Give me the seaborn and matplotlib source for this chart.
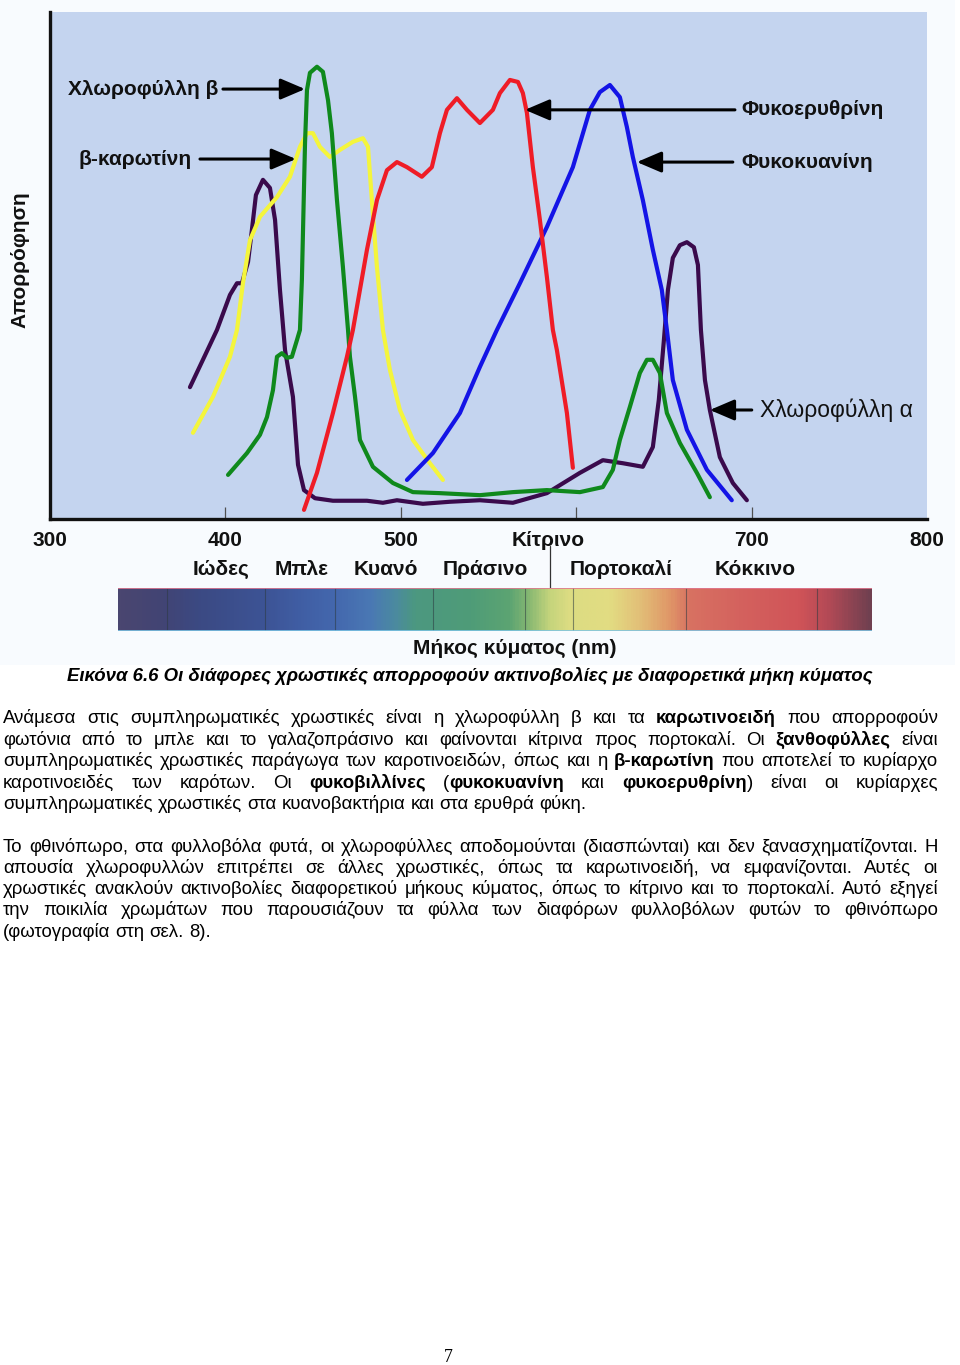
import numpy as np
import pandas as pd
import matplotlib
matplotlib.use("Agg")
import matplotlib.pyplot as plt
import seaborn as sns
from matplotlib.colors import LinearSegmentedColormap
from matplotlib.transforms import ScaledTranslation, blended_transform_factory
from matplotlib.patches import Rectangle, ArrowStyle

# ---------------- data (wavelength nm, relative absorption 0-100) ----------------
chl_a_nm = [379.8, 388.4, 395.2, 402.6, 406.6, 409.4, 412.9, 415.1, 417.4, 421.4, 425.4,
            428.3, 431.1, 434.0, 438.5, 441.4, 444.8, 451.1, 461.3, 480.7, 489.8, 497.8,
            512.6, 528.0, 545.1, 563.9, 583.3, 602.1, 615.2, 626.6, 638.0, 643.7, 647.1,
            650.0, 652.3, 655.1, 659.1, 663.1, 667.1, 669.4, 671.1, 673.4, 676.2, 681.9,
            689.3, 697.3]
chl_a_abs = [26.0, 32.3, 37.3, 44.2, 46.5, 46.5, 50.7, 57.0, 63.9, 66.9, 65.3,
             59.0, 45.2, 33.3, 24.1, 10.7, 5.7, 4.1, 3.6, 3.6, 3.2, 3.7,
             3.0, 3.4, 3.7, 3.2, 5.1, 9.1, 11.6, 11.0, 10.3, 14.2, 23.5,
             35.3, 45.2, 51.5, 54.0, 54.6, 53.6, 50.1, 37.3, 27.4, 21.5, 12.2,
             7.1, 3.7]

chl_b_nm = [401.5, 412.3, 419.7, 423.7, 427.1, 429.4, 432.2, 435.1, 437.9, 440.8, 442.5,
            443.6, 445.4, 446.5, 448.2, 452.2, 455.6, 458.5, 460.7, 463.6, 467.0, 469.9,
            471.0, 473.9, 476.7, 484.1, 495.5, 506.9, 522.3, 545.1, 563.9, 583.3, 602.1,
            615.2, 620.9, 624.9, 630.6, 636.3, 640.3, 643.7, 647.7, 651.7, 659.1, 668.8,
            676.2]
chl_b_abs = [8.7, 13.0, 16.6, 20.1, 25.4, 32.0, 32.7, 31.8, 32.0, 35.3, 37.3,
             47.1, 74.2, 84.6, 88.0, 89.2, 88.2, 82.6, 76.1, 62.9, 49.7, 37.3,
             32.0, 24.1, 15.6, 10.3, 7.1, 5.3, 5.1, 4.7, 5.3, 5.7, 5.3,
             6.3, 9.7, 15.6, 22.1, 28.8, 31.4, 31.4, 28.8, 20.9, 15.0, 9.1,
             4.3]

carot_nm = [381.5, 392.9, 402.6, 406.6, 410.0, 414.0, 419.7, 429.4, 436.8, 442.5, 446.5,
            449.9, 453.9, 459.6, 465.3, 472.7, 478.4, 481.3, 483.5, 486.4, 489.8, 493.8,
            499.5, 506.9, 516.6, 524.0]
carot_abs = [17.0, 24.1, 32.0, 37.3, 46.5, 55.0, 59.6, 63.5, 67.5, 73.4, 76.1,
             76.1, 73.4, 71.4, 72.8, 74.4, 75.1, 73.4, 62.9, 49.7, 37.3, 29.4,
             21.5, 15.6, 11.0, 7.7]

phycoery_nm = [444.8, 452.2, 461.3, 469.3, 472.7, 480.7, 486.4, 492.1, 497.8, 503.5, 512.0,
               517.7, 522.3, 526.3, 532.0, 537.7, 545.1, 552.5, 556.5, 562.2, 566.8, 569.6,
               571.9, 575.3, 579.3, 583.3, 586.7, 589.0, 594.7, 598.1]
phycoery_abs = [1.8, 9.1, 20.9, 32.0, 37.3, 53.1, 62.9, 68.8, 70.4, 69.4, 67.5,
                69.4, 76.1, 80.7, 83.0, 80.7, 78.1, 80.7, 84.0, 86.6, 86.2, 84.0,
                80.1, 69.4, 59.0, 47.7, 37.3, 33.3, 20.9, 10.1]

phycocy_nm = [503.5, 518.3, 533.7, 545.1, 554.8, 567.9, 583.3, 598.1, 607.8, 613.5, 619.2,
              624.9, 628.9, 632.3, 638.0, 643.7, 648.8, 651.7, 655.1, 663.1, 674.5, 688.7]
phycocy_abs = [7.7, 13.0, 20.9, 30.0, 37.3, 46.5, 57.6, 69.4, 80.7, 84.2, 85.6,
               83.2, 77.3, 71.4, 62.9, 53.1, 45.2, 37.3, 27.4, 17.6, 9.7, 3.7]

pigments = ["Χλωροφύλλη α", "β-καρωτίνη", "Χλωροφύλλη β", "Φυκοκυανίνη", "Φυκοερυθρίνη"]
pigment_colors = ["#3a0a4c", "#f4f53c", "#0f891c", "#1414e6", "#ef1c26"]

tick_pos = [300, 400, 500, 600, 700, 800]
tick_labels = ["300", "400", "500", "Κίτρινο", "700", "800"]

band_names = ["Ιώδες", "Μπλε", "Κυανό", "Πράσινο", "Πορτοκαλί", "Κόκκινο"]
band_centers = [397.5, 443.7, 491.6, 548.0, 625.5, 702.0]

caption = "Εικόνα 6.6 Οι διάφορες χρωστικές απορροφούν ακτινοβολίες με διαφορετικά μήκη κύματος"
para1 = [
    "Ανάμεσα στις συμπληρωματικές χρωστικές είναι η χλωροφύλλη β και τα **καρωτινοειδή** που απορροφούν",
    "φωτόνια από το μπλε και το γαλαζοπράσινο και φαίνονται κίτρινα προς πορτοκαλί. Οι **ξανθοφύλλες** είναι",
    "συμπληρωματικές χρωστικές παράγωγα των καροτινοειδών, όπως και η **β-καρωτίνη** που αποτελεί το κυρίαρχο",
    "καροτινοειδές των καρότων. Οι **φυκοβιλλίνες** (**φυκοκυανίνη** και **φυκοερυθρίνη**) είναι οι κυρίαρχες",
    "συμπληρωματικές χρωστικές στα κυανοβακτήρια και στα ερυθρά φύκη.",
]
para2 = [
    "Το φθινόπωρο, στα φυλλοβόλα φυτά, οι χλωροφύλλες αποδομούνται (διασπώνται) και δεν ξανασχηματίζονται. Η",
    "απουσία χλωροφυλλών επιτρέπει σε άλλες χρωστικές, όπως τα καρωτινοειδή, να εμφανίζονται. Αυτές οι",
    "χρωστικές ανακλούν ακτινοβολίες διαφορετικού μήκους κύματος, όπως το κίτρινο και το πορτοκαλί. Αυτό εξηγεί",
    "την ποικιλία χρωμάτων που παρουσιάζουν τα φύλλα των διαφόρων φυλλοβόλων φυτών το φθινόπωρο",
    "(φωτογραφία στη σελ. 8).",
]
page_number = "7"

# ---------------- build frame ----------------
series = {
    "Χλωροφύλλη α": (chl_a_nm, chl_a_abs),
    "β-καρωτίνη": (carot_nm, carot_abs),
    "Χλωροφύλλη β": (chl_b_nm, chl_b_abs),
    "Φυκοκυανίνη": (phycocy_nm, phycocy_abs),
    "Φυκοερυθρίνη": (phycoery_nm, phycoery_abs),
}
rows = []
for name in pigments:
    xs, ys = series[name]
    for x, y in zip(xs, ys):
        rows.append((name, x, y))
df = pd.DataFrame(rows, columns=["pigment", "nm", "abs"])

# ---------------- figure ----------------
sns.set_theme(style="white")
plt.rcParams["font.family"] = ["Liberation Sans", "DejaVu Sans"]

W, H = 960, 1365
fig = plt.figure(figsize=(W / 100, H / 100), dpi=100)
fig.patch.set_facecolor("white")

# light background of the image area
fig.patches.append(Rectangle((0, 1 - 665 / H), 955 / W, 665 / H, transform=fig.transFigure,
                             facecolor="#f8fbfe", edgecolor="none", zorder=-10))

ax = fig.add_axes([50 / W, 1 - 519 / H, 877 / W, 507 / H])
ax.set_zorder(2)
ax.set_facecolor("#c4d4ef")
sns.lineplot(data=df, x="nm", y="abs", hue="pigment", hue_order=pigments,
             palette=dict(zip(pigments, pigment_colors)), estimator=None, sort=False,
             linewidth=3.0, legend=False, ax=ax)
for ln in ax.lines:
    ln.set_solid_capstyle("round")
    ln.set_solid_joinstyle("round")

ax.set_xlim(300, 800)
ax.set_ylim(0, 100)
ax.set_yticks([])
ax.set_xlabel("")
ax.set_ylabel("")
for s in ["top", "right"]:
    ax.spines[s].set_visible(False)
for s in ["left", "bottom"]:
    ax.spines[s].set_color("#111111")
    ax.spines[s].set_linewidth(2.4)

ax.set_xticks(tick_pos)
ax.set_xticklabels(tick_labels)
ax.tick_params(axis="x", direction="in", length=9, width=0.9, color="#505050",
               pad=9, labelsize=15, bottom=True)
for lab in ax.get_xticklabels():
    lab.set_fontweight("bold")
    lab.set_color("#111111")
ticks = ax.xaxis.get_major_ticks()
ticks[0].tick1line.set_visible(False)
ticks[-1].tick1line.set_visible(False)
kit = ax.get_xticklabels()[3]
kit.set_transform(kit.get_transform() + ScaledTranslation(-28 / 100, 0, fig.dpi_scale_trans))

# annotations
arrow = dict(arrowstyle=ArrowStyle("-|>", head_length=0.75, head_width=0.32),
             color="black", lw=2.2, mutation_scale=20, shrinkA=0, shrinkB=0)
lab_kw = dict(fontsize=15, fontweight="bold", color="#111111", va="center")
ax.annotate("", xy=(445.4, 84.8), xytext=(398.6, 84.8), arrowprops=arrow)
ax.text(395.8, 84.8, "Χλωροφύλλη β", ha="right", **lab_kw)
ax.annotate("", xy=(440.2, 71.0), xytext=(385.5, 71.0), arrowprops=arrow)
ax.text(381.0, 71.0, "β-καρωτίνη", ha="right", **lab_kw)
ax.annotate("", xy=(570.8, 80.7), xytext=(690.5, 80.7), arrowprops=arrow)
ax.text(694.4, 80.7, "Φυκοερυθρίνη", ha="left", **lab_kw)
ax.annotate("", xy=(634.6, 70.4), xytext=(689.3, 70.4), arrowprops=arrow)
ax.text(694.4, 70.4, "Φυκοκυανίνη", ha="left", **lab_kw)
ax.annotate("", xy=(676.2, 21.5), xytext=(700.1, 21.5), arrowprops=arrow)
ax.text(704.7, 21.5, "Χλωροφύλλη α", ha="left", **dict(lab_kw, fontweight="normal", fontsize=16.5))

# colour band names
btr = blended_transform_factory(ax.transData, fig.transFigure)
for name, c in zip(band_names, band_centers):
    ax.text(c, 1 - 569 / H, name, transform=btr, ha="center", va="center",
            fontsize=15, fontweight="bold", color="#111111", clip_on=False)
ax.plot([585, 585], [1 - 546 / H, 1 - 598 / H], transform=btr, color="#333333",
        lw=0.9, clip_on=False)

fig.text(20 / W, 1 - 260 / H, "Απορρόφηση", rotation=90, ha="center", va="center",
         fontsize=15, fontweight="bold", color="#111111")
fig.text(515 / W, 1 - 648 / H, "Μήκος κύματος (nm)", ha="center", va="center",
         fontsize=15, fontweight="bold", color="#111111")

# spectrum bar
bax = fig.add_axes([118 / W, 1 - 631 / H, 754 / W, 43 / H])
bax.set_zorder(3)
stops = [(0.0, "#4a4670"), (0.056, "#424474"), (0.109, "#3b4a84"), (0.195, "#3d5496"),
         (0.241, "#405ea4"), (0.288, "#4468ae"), (0.334, "#4a78b4"), (0.367, "#4b8aa0"),
         (0.394, "#4c9880"), (0.467, "#4f9c78"), (0.520, "#5ca472"), (0.546, "#88b872"),
         (0.573, "#c4d47c"), (0.599, "#dcdc82"), (0.653, "#e2dc82"), (0.692, "#e2c078"),
         (0.732, "#e09868"), (0.759, "#d87262"), (0.825, "#d4625e"), (0.905, "#d05458"),
         (0.944, "#b44a56"), (1.0, "#704050")]
cmap = LinearSegmentedColormap.from_list("spec", stops)
bax.imshow(np.linspace(0, 1, 600)[None, :], aspect="auto", cmap=cmap, extent=(0, 1, 0, 1))
for f in [0.065, 0.195, 0.288, 0.418, 0.540, 0.603, 0.753, 0.927]:
    bax.axvline(f, color="#2c3a40", lw=0.8, alpha=0.55)
bax.axhline(1, color="#e07890", lw=1.2)
bax.axhline(0, color="#7cc4e4", lw=1.2)
bax.set_xlim(0, 1)
bax.set_ylim(0, 1)
bax.axis("off")

# ---------------- page text ----------------
BODY = "Liberation Sans"
fig.text(470 / W, 1 - 681 / H, caption, ha="center", va="baseline", fontsize=13.4,
         fontweight="bold", fontstyle="italic", color="black", family=BODY)

renderer = fig.canvas.get_renderer()
FS = 13.45


def parse(line):
    parts = line.split("**")
    words = [[]]
    for i, part in enumerate(parts):
        bold = i % 2 == 1
        chunks = part.split(" ")
        for j, ch in enumerate(chunks):
            if j > 0:
                words.append([])
            if ch:
                words[-1].append((ch, bold))
    return [w for w in words if w]


probe = fig.text(0, 0, "a a", fontsize=FS, family=BODY)
w1 = probe.get_window_extent(renderer).width
probe.set_text("aa")
w2 = probe.get_window_extent(renderer).width
probe.remove()
space_w = w1 - w2


def draw_line(line, base_px, justify, x0=3, x1=938):
    words = parse(line)
    objs, widths = [], []
    for w in words:
        segs, tot = [], 0
        for txt, b in w:
            t = fig.text(0, 1 - base_px / H, txt, fontsize=FS, ha="left", va="baseline",
                         fontweight="bold" if b else "normal", color="black", family=BODY)
            wd = t.get_window_extent(renderer).width
            segs.append((t, wd))
            tot += wd
        objs.append(segs)
        widths.append(tot)
    gap = (x1 - x0 - sum(widths)) / (len(words) - 1) if justify else space_w
    x = x0
    for segs in objs:
        for t, wd in segs:
            t.set_x(x / W)
            x += wd
        x += gap


for i, (line, base) in enumerate(zip(para1, [723, 745, 766, 788, 809])):
    draw_line(line, base, i < len(para1) - 1)
for i, (line, base) in enumerate(zip(para2, [852, 873, 894, 915, 937])):
    draw_line(line, base, i < len(para2) - 1)

fig.text(448 / W, 1 - 1362 / H, page_number, ha="center", va="baseline", fontsize=13,
         family="Liberation Serif", color="black")

fig.savefig("out.png", dpi=100, facecolor="white")
